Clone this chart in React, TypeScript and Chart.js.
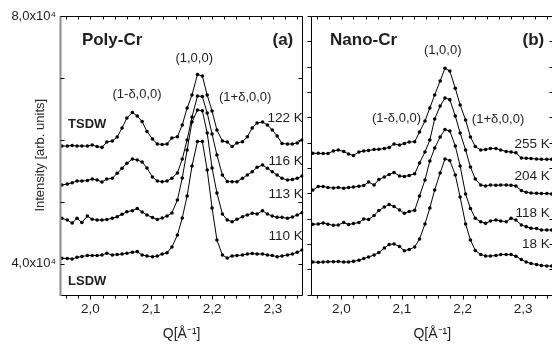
import React, { useEffect, useRef } from "react";
import { Chart, registerables } from "chart.js";
Chart.register(...registerables);

// ---------- data (intensity in units of 10^4) ----------
const qPoly = [1.953,1.962,1.970,1.978,1.986,1.995,2.003,2.011,2.019,2.027,2.036,2.044,2.052,2.060,2.069,2.077,2.085,2.093,2.102,2.110,2.118,2.126,2.134,2.143,2.151,2.159,2.167,2.176,2.184,2.192,2.200,2.208,2.217,2.225,2.233,2.241,2.250,2.258,2.266,2.274,2.283,2.291,2.299,2.307,2.315,2.324,2.332,2.340,2.348];
const poly122K = [5.899,5.899,5.907,5.899,5.899,5.899,5.916,5.891,5.878,5.964,5.980,6.045,6.190,6.352,6.441,6.384,6.295,6.134,6.013,5.932,5.924,5.932,6.029,6.050,6.239,6.513,6.724,7.055,7.031,6.724,6.465,6.158,5.980,5.964,5.891,5.948,5.969,6.050,6.190,6.271,6.287,6.239,6.158,6.061,5.940,5.932,5.932,5.948,5.996];
const poly116K = [5.269,5.285,5.306,5.334,5.334,5.342,5.366,5.350,5.318,5.366,5.378,5.458,5.539,5.620,5.689,5.673,5.641,5.544,5.399,5.334,5.323,5.334,5.378,5.463,5.689,5.996,6.368,6.707,6.699,6.433,6.093,5.754,5.431,5.326,5.323,5.323,5.378,5.431,5.484,5.555,5.592,5.539,5.484,5.431,5.378,5.350,5.358,5.378,5.415];
const poly113K = [4.731,4.704,4.655,4.731,4.663,4.768,4.715,4.704,4.704,4.712,4.731,4.757,4.796,4.838,4.854,4.890,4.833,4.785,4.744,4.712,4.736,4.768,4.817,5.027,5.382,5.835,6.287,6.481,6.470,6.110,5.544,5.140,4.801,4.704,4.676,4.715,4.757,4.785,4.812,4.801,4.854,4.801,4.768,4.747,4.747,4.731,4.752,4.785,4.822];
const poly110K = [4.085,4.082,4.074,4.101,4.114,4.130,4.130,4.130,4.138,4.166,4.138,4.146,4.154,4.166,4.182,4.192,4.138,4.122,4.111,4.122,4.154,4.175,4.268,4.461,4.736,5.092,5.576,5.972,5.972,5.512,4.898,4.381,4.138,4.090,4.122,4.130,4.138,4.154,4.162,4.154,4.154,4.138,4.130,4.111,4.122,4.138,4.154,4.182,4.219];

const qNano = [1.953,1.962,1.970,1.978,1.987,1.995,2.004,2.012,2.020,2.029,2.037,2.045,2.054,2.062,2.071,2.079,2.087,2.096,2.104,2.112,2.121,2.129,2.138,2.146,2.154,2.163,2.171,2.179,2.188,2.196,2.205,2.213,2.221,2.230,2.238,2.246,2.255,2.263,2.272,2.280,2.288,2.297,2.305,2.313,2.322,2.330,2.339,2.347];
const nano255K = [5.782,5.782,5.778,5.778,5.819,5.835,5.811,5.770,5.746,5.803,5.819,5.827,5.843,5.846,5.859,5.875,5.932,5.916,5.940,5.964,5.969,6.126,6.303,6.513,6.724,6.950,7.155,7.111,6.832,6.562,6.320,6.045,5.891,5.835,5.843,5.859,5.859,5.835,5.811,5.803,5.791,5.706,5.701,5.698,5.689,5.685,5.685,5.685];
const nano204K = [5.189,5.245,5.245,5.229,5.221,5.229,5.216,5.229,5.237,5.248,5.261,5.318,5.269,5.358,5.399,5.439,5.471,5.415,5.407,5.423,5.450,5.625,5.803,5.996,6.336,6.546,6.675,6.648,6.384,6.110,5.835,5.560,5.366,5.269,5.253,5.269,5.265,5.269,5.269,5.265,5.253,5.180,5.151,5.140,5.135,5.132,5.132,5.124];
const nano118K = [4.636,4.639,4.655,4.636,4.618,4.623,4.663,4.631,4.647,4.663,4.720,4.712,4.776,4.857,4.914,4.954,4.922,4.865,4.812,4.841,4.860,5.092,5.350,5.657,5.867,6.045,6.166,6.142,5.899,5.576,5.124,4.890,4.731,4.676,4.650,4.688,4.704,4.688,4.676,4.731,4.704,4.623,4.596,4.570,4.566,4.542,4.542,4.542];
const nano18K = [4.025,4.020,4.025,4.028,4.030,4.033,4.025,4.025,4.036,4.053,4.082,4.106,4.138,4.179,4.251,4.308,4.316,4.276,4.206,4.227,4.268,4.397,4.639,4.898,5.189,5.463,5.689,5.665,5.431,5.075,4.639,4.381,4.211,4.146,4.122,4.122,4.130,4.146,4.146,4.146,4.117,4.066,4.025,4.001,3.985,3.969,3.961,3.961];

const xTickValues = [1.96,1.98,2.0,2.02,2.04,2.06,2.08,2.1,2.12,2.14,2.16,2.18,2.2,2.22,2.24,2.26,2.28,2.3,2.32,2.34];
const yTickValuesPoly = [4, 5, 6, 7, 8];
const yTickLabelsPoly: Record<string, string> = { "4": "4,0x10\u2074", "8": "8,0x10\u2074" };

type Note = { text: string; q: number; v: number; align: CanvasTextAlign; bold?: boolean; size: number };

const notesPoly: Note[] = [
  { text: "Poly-Cr", q: 1.986, v: 7.612, align: "left", bold: true, size: 17 },
  { text: "(a)", q: 2.3335, v: 7.612, align: "right", bold: true, size: 17 },
  { text: "(1,0,0)", q: 2.1706, v: 7.321, align: "center", size: 13 },
  { text: "(1-\u03b4,0,0)", q: 2.0767, v: 6.740, align: "center", size: 13 },
  { text: "(1+\u03b4,0,0)", q: 2.2545, v: 6.691, align: "center", size: 13 },
  { text: "TSDW", q: 1.9632, v: 6.255, align: "left", bold: true, size: 13 },
  { text: "LSDW", q: 1.9632, v: 3.718, align: "left", bold: true, size: 13 },
  { text: "122 K", q: 2.349, v: 6.352, align: "right", size: 13.5 },
  { text: "116 K", q: 2.349, v: 5.657, align: "right", size: 13.5 },
  { text: "113 K", q: 2.349, v: 5.116, align: "right", size: 13.5 },
  { text: "110 K", q: 2.349, v: 4.445, align: "right", size: 13.5 },
];

const notesNano: Note[] = [
  { text: "Nano-Cr", q: 1.9815, v: 7.612, align: "left", bold: true, size: 17 },
  { text: "(b)", q: 2.3347, v: 7.612, align: "right", bold: true, size: 17 },
  { text: "(1,0,0)", q: 2.1672, v: 7.451, align: "center", size: 13 },
  { text: "(1-\u03b4,0,0)", q: 2.091, v: 6.352, align: "center", size: 13 },
  { text: "(1+\u03b4,0,0)", q: 2.2585, v: 6.336, align: "center", size: 13 },
  { text: "255 K", q: 2.344, v: 5.932, align: "right", size: 13.5 },
  { text: "204 K", q: 2.344, v: 5.415, align: "right", size: 13.5 },
  { text: "118 K", q: 2.344, v: 4.817, align: "right", size: 13.5 },
  { text: "18 K", q: 2.344, v: 4.316, align: "right", size: 13.5 },
];

const FONT = "'Liberation Sans', Arial, Helvetica, sans-serif";
const TEXT = "#1e1e1e";

function fmtX(v: number): string {
  const r = Math.round(v * 10);
  if (Math.abs(v * 10 - r) < 1e-6) return (r / 10).toFixed(1).replace(".", ",");
  return "";
}

function series(q: number[], vals: number[]) {
  return {
    data: q.map((x, i) => ({ x, y: vals[i] })),
    borderColor: "#000",
    borderWidth: 1,
    pointRadius: 1.8,
    pointBackgroundColor: "#000",
    pointBorderWidth: 0,
    tension: 0,
    fill: false,
  };
}

function framePlugin(kind: "poly" | "nano", notes: Note[]) {
  return {
    id: "frame-" + kind,
    afterDraw(chart: any) {
      const { ctx, chartArea: a, scales } = chart;
      const xs = scales.x, ys = scales.y;
      ctx.save();
      ctx.strokeStyle = "#000";
      ctx.lineWidth = 1;
      const L = Math.round(a.left) + 0.5, R = Math.round(a.right) - 0.5;
      const T = Math.round(a.top) + 0.5, B = Math.round(a.bottom) + 0.5;
      ctx.beginPath();
      ctx.moveTo(L, T); ctx.lineTo(R, T); ctx.lineTo(R, B); ctx.lineTo(L, B);
      if (kind === "nano") ctx.lineTo(L, T);
      ctx.stroke();
      if (kind === "poly") {
        ctx.save();
        ctx.strokeStyle = "#8c8c8c";
        ctx.lineWidth = 2;
        ctx.beginPath();
        ctx.moveTo(a.left + 0.5, T - 0.5);
        ctx.lineTo(a.left + 0.5, B + 0.5);
        ctx.stroke();
        ctx.restore();
      }
      // x ticks (bottom outward, top inward)
      ctx.beginPath();
      for (const t of xs.ticks) {
        const px = Math.round(xs.getPixelForValue(t.value)) + 0.5;
        const major = fmtX(t.value) !== "";
        ctx.moveTo(px, B); ctx.lineTo(px, B + (major ? 4 : 3));
        ctx.moveTo(px, T); ctx.lineTo(px, T + 3);
      }
      // y ticks
      if (kind === "poly") {
        for (const t of ys.ticks) {
          const py = Math.round(ys.getPixelForValue(t.value)) + 0.5;
          ctx.moveTo(L, py); ctx.lineTo(L + 4, py);
          ctx.moveTo(R, py); ctx.lineTo(R - 4, py);
        }
      } else {
        const n = 11;
        for (let i = 0; i <= n; i++) {
          const v = ys.min + (i * (ys.max - ys.min)) / n;
          const py = Math.round(ys.getPixelForValue(v)) + 0.5;
          ctx.moveTo(L - 4, py); ctx.lineTo(L, py);
          ctx.moveTo(R, py); ctx.lineTo(R - 4, py);
        }
      }
      ctx.stroke();
      // annotations
      ctx.fillStyle = TEXT;
      ctx.textBaseline = "middle";
      for (const n of notes) {
        ctx.font = `${n.bold ? "bold " : ""}${n.size}px ${FONT}`;
        ctx.textAlign = n.align;
        ctx.fillText(n.text, xs.getPixelForValue(n.q), ys.getPixelForValue(n.v));
      }
      ctx.restore();
    },
  };
}

function xScale() {
  return {
    type: "linear",
    min: 1.95,
    max: 2.35,
    grid: { display: false, drawTicks: false },
    border: { display: false },
    afterBuildTicks: (s: any) => { s.ticks = xTickValues.map((value) => ({ value })); },
    ticks: {
      autoSkip: false,
      maxRotation: 0,
      padding: 7,
      color: TEXT,
      font: { family: FONT, size: 13.5 },
      callback: (v: any) => fmtX(Number(v)),
    },
    title: {
      display: true,
      text: "Q[\u00c5\u207b\u00b9]",
      color: TEXT,
      font: { family: FONT, size: 14 },
      padding: { top: 0, bottom: 6 },
    },
    afterFit: (s: any) => { s.height = 54.5; },
  };
}

export default function App() {
  const refA = useRef<HTMLCanvasElement>(null);
  const refB = useRef<HTMLCanvasElement>(null);

  useEffect(() => {
    const common = {
      responsive: false,
      animation: false,
      devicePixelRatio: 1,
      plugins: { legend: { display: false }, tooltip: { enabled: false } },
      elements: { line: { borderJoinStyle: "round" } },
    };
    const chartA = new Chart(refA.current as HTMLCanvasElement, {
      type: "line",
      data: {
        datasets: [
          series(qPoly, poly122K),
          series(qPoly, poly116K),
          series(qPoly, poly113K),
          series(qPoly, poly110K),
        ],
      } as any,
      options: {
        ...common,
        layout: { padding: { top: 16, right: 4.7, left: 0, bottom: 0 } },
        scales: {
          x: xScale(),
          y: {
            type: "linear",
            min: 3.5,
            max: 8,
            grid: { display: false, drawTicks: false },
            border: { display: false },
            afterBuildTicks: (s: any) => { s.ticks = yTickValuesPoly.map((value) => ({ value })); },
            ticks: {
              autoSkip: false,
              padding: 4,
              color: TEXT,
              font: { family: FONT, size: 13 },
              callback: (v: any) => yTickLabelsPoly[String(v)] || "",
            },
            title: {
              display: true,
              text: "Intensity [arb. units]",
              color: "#2a2a2a",
              font: { family: FONT, size: 13 },
              padding: { top: 33, bottom: 0 },
            },
            afterFit: (s: any) => { s.width = 60; },
          },
        },
      } as any,
      plugins: [framePlugin("poly", notesPoly)],
    });

    const chartB = new Chart(refB.current as HTMLCanvasElement, {
      type: "line",
      data: {
        datasets: [
          series(qNano, nano255K),
          series(qNano, nano204K),
          series(qNano, nano118K),
          series(qNano, nano18K),
        ],
      } as any,
      options: {
        ...common,
        layout: { padding: { top: 16, right: 12.5, left: 0, bottom: 0 } },
        scales: {
          x: xScale(),
          y: {
            type: "linear",
            min: 3.5,
            max: 8,
            grid: { display: false, drawTicks: false },
            border: { display: false },
            ticks: { display: false },
            afterFit: (s: any) => { s.width = 15; },
          },
        },
      } as any,
      plugins: [framePlugin("nano", notesNano)],
    });

    return () => {
      chartA.destroy();
      chartB.destroy();
    };
  }, []);

  return (
    <div style={{ position: "fixed", left: 0, top: 0, width: 552, height: 349, overflow: "hidden", background: "#fff" }}>
      <canvas ref={refA} width={308} height={349} style={{ position: "absolute", left: 0, top: 0 }} />
      <canvas ref={refB} width={270} height={349} style={{ position: "absolute", left: 296, top: 0 }} />
    </div>
  );
}
